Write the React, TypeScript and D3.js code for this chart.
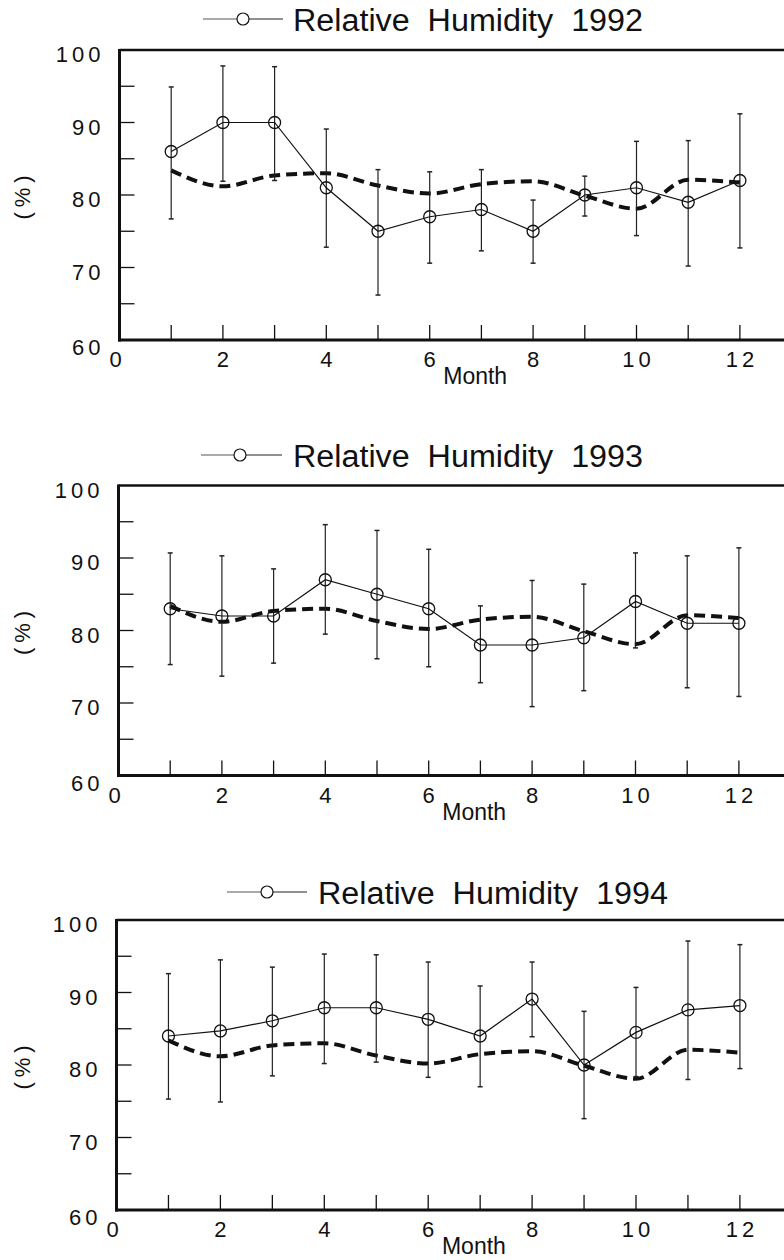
import React from "react";
import * as d3 from "d3";

const months = [1, 2, 3, 4, 5, 6, 7, 8, 9, 10, 11, 12];
const climMean = [83.4, 81.2, 82.7, 83.0, 81.3, 80.2, 81.5, 81.9, 79.9, 78.1, 82.1, 81.7];

const rh1992 = [86, 90, 90, 81, 75, 77, 78, 75, 80, 81, 79, 82];
const hi1992 = [94.9, 97.8, 97.7, 89.1, 83.5, 83.2, 83.5, 79.3, 82.6, 87.4, 87.5, 91.2];
const lo1992 = [76.7, 81.9, 82.0, 72.8, 66.2, 70.6, 72.3, 70.6, 77.1, 74.4, 70.2, 72.7];

const rh1993 = [83, 82, 82, 87, 85, 83, 78, 78, 79, 84, 81, 81];
const hi1993 = [90.7, 90.3, 88.5, 94.6, 93.8, 91.2, 83.4, 86.9, 86.4, 90.7, 90.3, 91.4];
const lo1993 = [75.3, 73.7, 75.5, 79.5, 76.1, 75.0, 72.8, 69.5, 71.7, 77.6, 72.1, 70.9];

const rh1994 = [84.0, 84.7, 86.1, 87.9, 87.9, 86.3, 84.0, 89.1, 80.0, 84.5, 87.6, 88.2];
const hi1994 = [92.6, 94.5, 93.5, 95.3, 95.2, 94.2, 90.9, 94.2, 87.4, 90.7, 97.1, 96.6];
const lo1994 = [75.3, 74.9, 78.5, 80.2, 80.4, 78.3, 77.0, 83.9, 72.6, 78.4, 78.0, 79.5];

const titles = ["Relative  Humidity  1992", "Relative  Humidity  1993", "Relative  Humidity  1994"];
const yTickLabels = [60, 70, 80, 90, 100];
const yMinorTicks = [65, 75, 85, 95];
const xTickLabels = [0, 2, 4, 6, 8, 10, 12];
const xLabel = "Month";
const yLabel = "(%)";

const FONT = "'Liberation Sans', Arial, Helvetica, sans-serif";

type PanelLayout = {
  top: number;
  left: number;
  mw: number;
  legendY: number;
  legendX0: number;
  legendX1: number;
  legendC: number;
  titleX: number;
};

const layouts: PanelLayout[] = [
  { top: 50, left: 119.5, mw: 51.7, legendY: 19, legendX0: 203, legendX1: 283, legendC: 243, titleX: 293 },
  { top: 485.5, left: 118.5, mw: 51.7, legendY: 455, legendX0: 201, legendX1: 282, legendC: 240, titleX: 293 },
  { top: 920, left: 116.5, mw: 51.95, legendY: 892, legendX0: 227, legendX1: 307, legendC: 267, titleX: 318 },
];

const series = [
  { values: rh1992, hi: hi1992, lo: lo1992 },
  { values: rh1993, hi: hi1993, lo: lo1993 },
  { values: rh1994, hi: hi1994, lo: lo1994 },
];

const PLOT_H = 290;

function Panel({ idx }: { idx: number }) {
  const L = layouts[idx];
  const s = series[idx];
  const x = d3.scaleLinear().domain([0, 13]).range([L.left, L.left + 13 * L.mw]);
  const y = d3.scaleLinear().domain([60, 100]).range([L.top + PLOT_H, L.top]);
  const bottom = y(60);

  const dataLine = d3
    .line<number>()
    .x((_, i) => x(months[i]))
    .y((d) => y(d));
  const climLine = d3
    .line<number>()
    .x((_, i) => x(months[i]))
    .y((d) => y(d))
    .curve(d3.curveMonotoneX);

  const tickLen = 15;
  return (
    <g>
      {/* legend */}
      <line x1={L.legendX0} x2={L.legendC - 6} y1={L.legendY} y2={L.legendY} stroke="#555" strokeWidth={1.2} />
      <line x1={L.legendC + 6} x2={L.legendX1} y1={L.legendY} y2={L.legendY} stroke="#222" strokeWidth={1.2} />
      <circle cx={L.legendC} cy={L.legendY} r={6} fill="none" stroke="#111" strokeWidth={1.2} />
      <text
        x={L.titleX}
        y={L.legendY + 11.5}
        fontFamily={FONT}
        fontSize={31}
        fill="#111"
        textLength={350}
        lengthAdjust="spacingAndGlyphs"
        style={{ whiteSpace: "pre" }}
      >
        {titles[idx]}
      </text>

      {/* frame */}
      <line x1={L.left} x2={790} y1={L.top} y2={L.top} stroke="#111" strokeWidth={2.5} />
      <line x1={L.left} x2={L.left} y1={L.top - 1} y2={bottom + 1.5} stroke="#111" strokeWidth={3} />
      <line x1={L.left - 1.5} x2={790} y1={bottom} y2={bottom} stroke="#111" strokeWidth={3} />

      {/* y ticks */}
      {[...yTickLabels.filter((v) => v > 60 && v < 100), ...yMinorTicks].map((v) => (
        <line key={"yt" + v} x1={L.left} x2={L.left + tickLen} y1={y(v)} y2={y(v)} stroke="#111" strokeWidth={1.3} />
      ))}
      {yTickLabels.map((v) => (
        <text
          key={"yl" + v}
          x={L.left - 15}
          y={y(v) + (v === 60 ? 15 : 12)}
          textAnchor="end"
          fontFamily={FONT}
          fontSize={22}
          letterSpacing={4}
          fill="#111"
        >
          {v}
        </text>
      ))}
      <text
        transform={`translate(${30},${y(80)}) rotate(-90)`}
        textAnchor="middle"
        fontFamily={FONT}
        fontSize={22}
        letterSpacing={5}
        fill="#111"
      >
        {yLabel}
      </text>

      {/* x ticks */}
      {months.map((m) => (
        <line key={"xt" + m} x1={x(m)} x2={x(m)} y1={bottom} y2={bottom - tickLen} stroke="#111" strokeWidth={1.3} />
      ))}
      {xTickLabels.map((m) => (
        <text
          key={"xl" + m}
          x={x(m) + (m === 0 ? -2 : 2)}
          y={bottom + 27}
          textAnchor="middle"
          fontFamily={FONT}
          fontSize={22}
          letterSpacing={4}
          fill="#111"
        >
          {m}
        </text>
      ))}
      <text x={x(6.88)} y={bottom + 44} textAnchor="middle" fontFamily={FONT} fontSize={23} fill="#111">
        {xLabel}
      </text>

      {/* climatological mean dashed */}
      <path d={climLine(climMean) || ""} fill="none" stroke="#111" strokeWidth={4} strokeDasharray="11,6" />

      {/* error bars */}
      {months.map((m, i) => (
        <g key={"eb" + m}>
          <line x1={x(m)} x2={x(m)} y1={y(s.hi[i])} y2={y(s.lo[i])} stroke="#222" strokeWidth={1.2} />
          <line x1={x(m) - 2.5} x2={x(m) + 2.5} y1={y(s.hi[i])} y2={y(s.hi[i])} stroke="#222" strokeWidth={1.5} />
          <line x1={x(m) - 2.5} x2={x(m) + 2.5} y1={y(s.lo[i])} y2={y(s.lo[i])} stroke="#222" strokeWidth={1.5} />
        </g>
      ))}

      {/* data line */}
      <path d={dataLine(s.values) || ""} fill="none" stroke="#111" strokeWidth={1.2} />
      {months.map((m, i) => (
        <circle key={"c" + m} cx={x(m)} cy={y(s.values[i])} r={6} fill="none" stroke="#111" strokeWidth={1.3} />
      ))}
    </g>
  );
}

export default function App() {
  return (
    <svg
      width={784}
      height={1260}
      viewBox="0 0 784 1260"
      style={{ position: "absolute", left: 0, top: 0, background: "#fff" }}
    >
      <rect x={0} y={0} width={784} height={1260} fill="#fff" />
      {[0, 1, 2].map((i) => (
        <Panel key={i} idx={i} />
      ))}
    </svg>
  );
}
